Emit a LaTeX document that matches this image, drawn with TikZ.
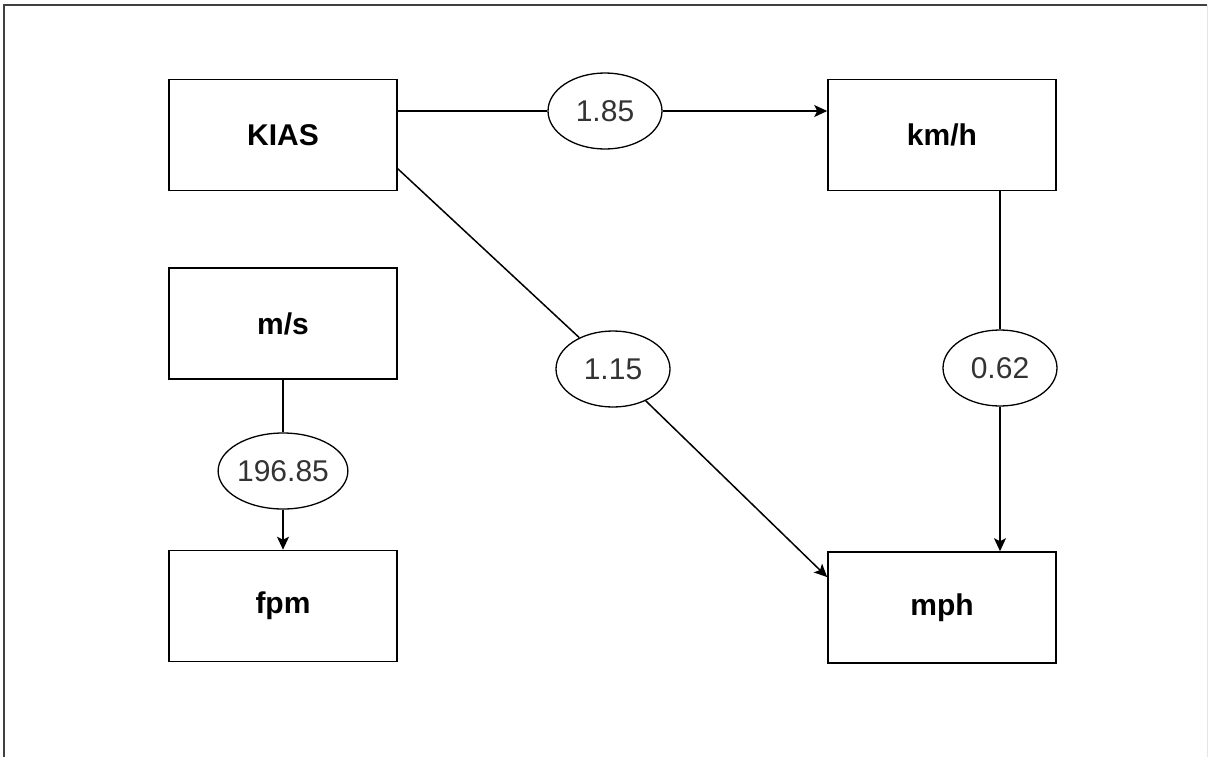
\documentclass[tikz,border=0pt]{standalone}
\usepackage{fontspec}
\setmainfont{Liberation Sans}
\usetikzlibrary{arrows.meta,calc,shapes.geometric}
\definecolor{numgray}{HTML}{333333}
\begin{document}
\begin{tikzpicture}[x=1pt,y=-1pt,
  unitbox/.style={draw=black,line width=1.6pt,minimum width=228pt,minimum height=111pt,inner sep=0pt,font=\fontsize{30}{35}\selectfont\bfseries,fill=white},
  factor/.style={draw=black,ellipse,line width=1.3pt,minimum width=114pt,minimum height=76pt,inner sep=0pt,font=\fontsize{30}{35}\selectfont,text=numgray,fill=white},
  conn/.style={line width=1.5pt,draw=black},
  arr/.style={conn,-{Stealth[length=13pt,width=12pt,inset=3pt]}}]
\useasboundingbox (0,0) rectangle (1208,756);
\draw[line width=2pt,draw=black!75] (3.5,760) -- (3.5,5) -- (1207,5);
\draw[line width=1pt,draw=black!10] (1207,5) -- (1207,760);

\node[unitbox] (kias) at (283,135) {KIAS};
\node[unitbox] (kmh) at (942,135) {km/h};
\node[unitbox] (ms) at (283,323.5) {m/s};
\node[unitbox] (fpm) at (283,606) {fpm};
\node[unitbox] (mph) at (942,607.5) {mph};

\coordinate (dstart) at ($(kias.north east)!0.8!(kias.south east)$);
\coordinate (dend) at ($(mph.north west)!0.23!(mph.south west)$);

\node[factor] (e185) at (605,111) {1.85};
\node[factor] (e115) at (613,369) {1.15};
\node[factor] (e062) at (1000,368) {0.62};
\node[factor] (e19685) at (283,471) {196.85};

\draw[conn] (kias.east |- e185) -- (e185);
\draw[arr] (e185) -- (kmh.west |- e185);
\draw[conn] (dstart) -- (e115);
\draw[arr] (e115) -- (dend);
\draw[conn] (kmh.south -| e062) -- (e062);
\draw[arr] (e062) -- (mph.north -| e062);
\draw[conn] (ms.south) -- (e19685);
\draw[arr] (e19685) -- (fpm.north);
\end{tikzpicture}
\end{document}
